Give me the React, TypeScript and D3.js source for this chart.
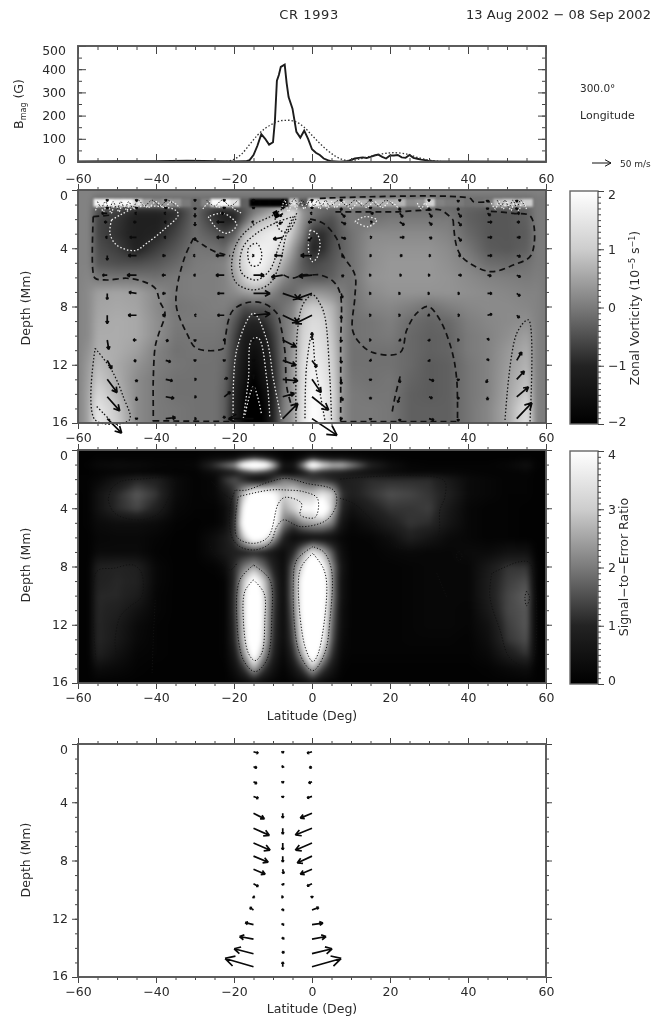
import React, { useEffect, useMemo, useRef } from "react";
import * as d3 from "d3";

type Pt = [number, number];

const WIDTH = 654;
const HEIGHT = 1019;
const FONT = "'DejaVu Sans', sans-serif";
const INK = "#2a2a2a";

// ---- field grid (latitude in deg, depth in Mm)
const fieldLats = [-60, -57.5, -55, -50, -45, -40, -35, -30, -25, -22.5, -20, -17.5, -15, -12.5, -10, -7.5, -5, -2.5, 0, 2.5, 5, 7.5, 10, 15, 20, 25, 30, 35, 40, 45, 50, 55, 57.5, 60];
const fieldDepths = [0, 0.5, 1, 1.5, 2, 3, 4, 5, 6, 7, 8, 9, 10, 11, 12, 13, 14, 15, 16];

const vorticity = [
  [.1, .1, .1, .1, .1, .1, .1, .1, .1, .1, .1, .1, .1, .1, .1, .1, .1, .1, .1, .1, .1, .1, .1, .1, .1, .1, .1, .1, .1, .1, .1, .1, .1, .1],
  [.1, .1, -.1, -.1, -.1, -.1, -.1, -.1, -.1, -.1, -.1, -.1, -.1, -.1, -.1, -.1, -.1, -.1, -.1, -.1, -.1, -.1, -.1, -.1, -.1, -.1, -.1, -.1, -.1, -.1, -.1, -.1, 0, 0],
  [.1, .1, -.3, -.3, -.4, -.4, -.3, -.2, -.3, -.3, -.3, -.3, -.2, -.1, 0, .2, .2, 0, -.2, -.2, -.2, -.2, -.2, -.2, -.2, -.2, -.2, -.2, -.2, -.2, -.2, -.2, 0, 0],
  [.1, .1, -.5, -.7, -1, -1, -.9, -.2, -.9, -1, -.9, -.5, 0, .3, .6, 1, 1.4, .3, 0, -.2, -.3, -.1, 0, -.2, -.1, -.1, -.1, -.1, -.3, -.4, -.4, -.3, 0, 0],
  [.1, .1, -.6, -.8, -1.1, -1.1, -.8, -.2, -.8, -1.05, -1, -.3, .4, .8, 1, 1.3, 1.1, .3, -.2, -.4, -.5, -.2, 0, -.1, 0, 0, 0, 0, -.3, -.4, -.4, -.3, 0, 0],
  [.1, .1, -.6, -.85, -1.1, -1, -.6, -.15, -.4, -.6, -.3, .7, 1.2, 1.5, 1.7, 1.6, .8, .1, -.8, -.9, -.6, -.3, -.1, .2, .2, .2, .2, .1, -.2, -.4, -.4, -.35, 0, 0],
  [.1, .1, -.5, -.7, -1.05, -.7, -.4, -.05, -.1, -.2, .4, 1.2, 1.7, 1.7, 1.6, 1.1, .4, -.3, -1, -.9, -.5, -.3, -.1, .25, .3, .3, .3, .2, -.05, -.35, -.4, -.3, 0, 0],
  [.1, .1, -.4, -.5, -.5, -.4, -.2, 0, .05, .1, .6, 1.3, 1.9, 1.7, 1.2, .6, .1, -.4, -.6, -.5, -.4, -.2, -.1, .25, .35, .35, .35, .25, .1, -.15, -.2, -.1, 0, 0],
  [.1, .15, -.02, -.05, -.05, -.1, 0, .05, .05, .1, .4, 1, 1.5, 1.3, .7, .2, -.1, -.3, -.4, -.4, -.3, -.1, -.1, .3, .35, .35, .35, .3, .2, .1, .05, 0, .05, 0],
  [.1, .2, .45, .5, .45, .2, 0, .05, .05, .1, .2, .4, .5, .4, .1, -.2, -.2, .1, .3, .3, .2, .05, -.1, .2, .3, .3, .3, .3, .25, .2, .15, .1, .1, 0],
  [.1, .2, .5, .55, .5, .2, -.05, 0, .05, .05, -.1, -.5, -.4, -.4, -.3, -.1, .1, .8, 1, .9, .7, .2, -.1, .1, .15, .05, -.1, .05, .15, .2, .2, .15, .1, 0],
  [.1, .2, .55, .6, .55, .25, 0, 0, 0, -.05, -.4, -.9, -1, -.9, -.5, -.05, .2, 1, 1.3, 1.2, .8, .25, -.1, -.05, .05, -.15, -.25, -.2, .05, .15, .2, .25, .1, 0],
  [.1, .2, .6, .6, .55, .25, -.05, -.05, -.05, -.1, -.6, -1.2, -1.3, -1.2, -.7, -.1, .3, 1.1, 1.4, 1.3, .9, .25, -.1, -.05, 0, -.2, -.3, -.25, 0, .1, .25, .45, .1, 0],
  [.1, .3, .65, .6, .45, .1, -.1, -.05, -.1, -.15, -.7, -1.3, -1.6, -1.3, -.8, -.1, .3, 1.2, 1.6, 1.4, 1, .3, -.1, -.1, -.1, -.2, -.3, -.25, 0, .1, .35, .6, .1, 0],
  [.1, .4, .8, .55, .3, .05, -.05, -.1, -.1, -.2, -.8, -1.4, -1.8, -1.4, -.9, -.1, .4, 1.3, 1.7, 1.5, 1.1, .3, -.1, -.1, -.1, -.2, -.35, -.3, -.05, .1, .4, .7, .1, 0],
  [.1, .45, .95, .6, .2, 0, -.1, -.1, -.1, -.25, -.9, -1.5, -2, -1.5, -1, -.1, .4, 1.3, 1.8, 1.6, 1.2, .3, -.05, -.1, -.05, -.25, -.35, -.3, -.05, .1, .45, .85, .1, 0],
  [.1, .5, 1.2, .7, .2, 0, -.1, -.1, -.1, -.3, -1, -1.7, -2.3, -1.7, -1, -.05, .4, 1.4, 1.9, 1.7, 1.3, .3, 0, -.05, -.05, -.3, -.35, -.3, -.05, .1, .5, 1, .1, 0],
  [.1, .5, 1.5, .9, .2, 0, -.05, -.1, -.1, -.3, -1.1, -1.8, -2.5, -1.9, -1, 0, .4, 1.4, 2, 1.8, 1.3, .3, 0, 0, -.05, -.3, -.3, -.3, -.05, .15, .55, 1.3, .1, 0],
  [.1, .5, 1.6, 1, .2, 0, -.05, -.1, -.1, -.3, -1.1, -1.9, -2.6, -1.9, -1, 0, .4, 1.4, 2, 1.8, 1.3, .3, 0, 0, -.05, -.3, -.3, -.3, -.05, .15, .55, 1.4, .1, 0],
];

const snr = [
  [.05, .05, .05, .05, .05, .05, .05, .05, .05, .05, .05, .05, .05, .05, .05, .05, .05, .05, .05, .05, .05, .05, .05, .05, .05, .05, .05, .05, .05, .05, .05, .05, .05, .05],
  [.05, .05, .1, .1, .1, .1, .1, .1, .3, .3, .4, .8, 1.2, .9, .5, .1, .1, .4, .9, .6, .5, .5, .4, .2, .1, .05, .05, .05, .05, .05, .05, .1, .05, .05],
  [.05, .1, .25, .35, .3, .2, .15, .2, 1.3, 1.8, 2.3, 4.5, 6, 5, 2.8, .6, .6, 2.2, 5, 3.5, 2.8, 2.8, 2.2, 1, .4, .15, .1, .1, .1, .1, .2, .45, .1, .05],
  [.05, .05, .1, .15, .15, .1, .1, .1, .4, .6, .8, 1.2, 1.5, 1.3, .9, .3, .3, .7, 1.2, 1, .9, .8, .6, .4, .3, .2, .2, .2, .15, .1, .1, .15, .05, .05],
  [.1, .1, .2, .6, 1, .9, .3, .1, .2, 1.2, 1.5, 1, .4, .4, 1.2, 2, 1.8, 1.5, 1.2, 1.2, 1, .8, .9, 1.1, 1.1, 1.1, 1.1, .7, .3, .2, .1, .1, .05, .05],
  [.05, .1, .5, 1.1, 1.6, 1.2, .3, .1, .2, .6, 1.2, 3, 4.5, 4.5, 4, 3, 3.5, 3, 3, 3.5, 3, 1.2, .9, 1.2, 1.5, 1.4, 1.2, .9, .3, .2, .1, .1, .05, .05],
  [.05, .1, .5, 1.1, 1.4, .9, .2, .1, .1, .3, 1, 4, 6, 6, 5, 2.5, 3, 4, 4, 5, 3, 1, .5, .9, 1.2, 1.2, 1.3, .7, .2, .1, .1, .05, .05, .05],
  [.05, .1, .3, .4, .4, .3, .1, .05, .1, .3, 1.2, 4.5, 7, 6, 4.5, 2, 1.5, 2.2, 2.5, 2.5, 2, .6, .2, .5, .9, 1.2, 1.1, .6, .2, .1, .1, .05, .05, .05],
  [.05, .05, .2, .25, .25, .15, .05, .05, .4, .7, 1.2, 3, 4.5, 4, 2.5, 1, .3, .4, .5, .5, .4, .2, .1, .15, .4, .9, .6, .3, .2, .1, .1, .05, .05, .05],
  [.05, .05, .3, .3, .3, .1, .05, .05, .4, .7, .9, .9, 1, .9, .6, .3, 1, 2.3, 3.5, 2.8, 1.6, .4, .1, .1, .2, .25, .2, .2, .3, .3, .5, .5, .05, .05],
  [.05, .05, .9, 1, .9, .2, .05, .05, .1, .3, 1.1, 2, 2.5, 1.8, .9, .3, 1.8, 3.4, 6, 4.2, 2.2, .6, .1, .1, .1, .15, .2, .2, .2, .7, 1.2, 1.2, .1, .05],
  [.05, .05, .95, 1.05, .95, .2, .05, .05, .05, .1, 1.1, 3, 4.5, 3, 1.3, .3, 2, 4.2, 8, 5, 2.2, .5, .1, .1, .1, .15, .2, .2, .2, .8, 1.3, 1.5, .1, .05],
  [.05, .05, 1.05, 1.05, .8, .15, .05, .05, .05, .1, 1.2, 3.3, 6, 3.3, 1.4, .3, 2, 4.2, 8, 5, 2.2, .5, .1, .1, .1, .15, .2, .2, .2, .8, 1.4, 1.7, .1, .05],
  [.05, .05, 1.05, .9, .5, .15, .05, .05, .05, .1, 1.2, 3.3, 6.5, 3.3, 1.3, .3, 1.8, 4.2, 8, 4.6, 2, .4, .1, .1, .1, .15, .2, .2, .15, .7, 1.4, 1.6, .1, .05],
  [.05, .05, 1.05, .75, .3, .1, .05, .05, .05, .1, 1.1, 3.2, 6.5, 3.2, 1.2, .3, 1.6, 3.9, 8, 4.3, 1.8, .4, .1, .1, .1, .15, .2, .2, .15, .5, 1.3, 1.6, .1, .05],
  [.05, .05, 1.05, .7, .25, .1, .05, .05, .05, .1, 1, 3, 6, 3, 1.1, .3, 1.4, 3.5, 7, 3.9, 1.6, .3, .1, .1, .1, .15, .15, .15, .1, .4, 1.2, 1.5, .1, .05],
  [.05, .05, .9, .5, .15, .1, .05, .05, .05, .1, .7, 2.3, 4.5, 2.3, .9, .2, 1, 2.6, 5, 2.8, 1.2, .2, .1, .1, .1, .1, .1, .1, .1, .25, .8, 1.2, .1, .05],
  [.05, .05, .35, .25, .1, .05, .05, .05, .05, .05, .4, 1.2, 2.5, 1.3, .5, .1, .5, 1.3, 2.6, 1.4, .6, .1, .05, .05, .05, .05, .05, .05, .05, .1, .25, .4, .05, .05],
  [.05, .05, .05, .05, .05, .05, .05, .05, .05, .05, .1, .2, .4, .2, .1, .05, .1, .2, .5, .2, .1, .05, .05, .05, .05, .05, .05, .05, .05, .05, .05, .05, .05, .05],
];

// thin near-surface layer of the vorticity panel
const bandLats = [-56, -53.5, -51, -48.5, -46, -43.5, -41, -38.5, -36, -33.5, -31, -28.5, -26, -23.5, -21, -18.5, -16, -13.5, -11, -8.5, -6, -3.5, -1, 1.5, 4, 6.5, 9, 11.5, 14, 16.5, 19, 21.5, 24, 26.5, 29, 31.5, 34, 36.5, 39, 41.5, 44, 46.5, 49, 51.5, 54, 56.5];
const bandVals = [1.8, 2, 1.8, 1.9, 1.3, .5, .2, .4, .3, 0, -.2, .1, 1.9, 1.9, 1.4, -.3, -2.5, -2.5, -2.5, -2.5, 1.2, -.4, 1.9, 1.4, 1, .8, .7, .7, .6, .7, .6, .7, .2, .3, 1.1, .1, 0, 0, -.1, -.1, 0, .8, 1, .8, 1];

// ---- magnetic field profile
const bLat = [-60, -50, -40, -32, -28, -20, -17, -16, -15, -14, -13, -12, -11, -10, -9.5, -9, -8.5, -8, -7, -6.5, -6, -5, -4, -3, -2, -1, 0, 1, 2, 3, 4, 5, 7, 9, 11, 12, 13, 14, 15, 16, 17, 18, 19, 20, 21, 22, 23, 24, 25, 26, 27, 28, 29, 30, 32, 40, 60];
const bSolid = [2, 3, 3, 6, 5, 2, 3, 8, 30, 70, 120, 100, 75, 85, 180, 350, 375, 410, 420, 340, 280, 230, 130, 105, 135, 100, 55, 40, 30, 15, 8, 3, 1, 3, 15, 18, 20, 17, 22, 28, 32, 22, 15, 28, 28, 30, 20, 18, 30, 18, 14, 10, 8, 4, 2, 2, 1];
const bSmoothLat = [-22, -20, -18, -16, -14, -12, -10, -8, -6, -4, -2, 0, 2, 4, 6, 8, 10, 12, 15, 18, 21, 24, 27, 30, 33];
const bSmooth = [3, 12, 35, 75, 115, 145, 165, 178, 180, 172, 150, 115, 80, 50, 25, 10, 6, 12, 25, 35, 40, 35, 20, 8, 3];

// ---- flow vectors, m/s, positive v = downward
const vecLats = [-52.5, -45, -37.5, -30, -22.5, -15, -7.5, 0, 7.5, 15, 22.5, 30, 37.5, 45, 52.5];
const vecDepths = [0.7, 1.2, 1.6, 2.2, 3.25, 4.5, 5.85, 7.1, 8.6, 10.3, 11.7, 13, 14.2, 15.7];
const vecU = [
  [0, 0, 0, 0, 0, 0, 0, 0, 0, 0, 0, 0, 0, 0, 0],
  [0, 0, 0, 0, 0, 0, 0, 0, 0, 0, 0, 0, 0, 0, 0],
  [-15, -5, -5, 0, -8, 0, -8, -5, 10, 8, 8, 8, 8, 8, 8],
  [-8, -8, -4, 0, -20, -5, -10, -10, 12, 5, 12, 8, 8, 12, 8],
  [-5, -18, -5, 0, -20, 0, -25, -10, 12, 4, 12, 8, 8, 12, 10],
  [0, -22, -9, -5, -22, 2, -22, -30, 7, 3, 7, 5, 7, 12, 10],
  [-13, -25, -10, -4, -22, 28, -30, -35, 7, 2, 5, 3, 9, 10, 10],
  [0, -20, -9, 0, -18, 44, 42, -40, 3, 2, 2, 2, 4, 12, 9],
  [0, -22, -9, -2, -18, 44, 40, -44, 0, 2, 2, 2, 4, 12, 7],
  [4, -9, 7, 0, -3, 2, 35, 0, 0, 2, 3, 2, 3, 4, 0],
  [12, -7, 13, 0, 0, 0, 35, 13, 0, 2, 0, 2, 0, 3, 13],
  [26, 0, 18, 4, 9, 0, 40, 24, 0, 0, 0, 13, 0, -3, 20],
  [33, 0, 22, 4, 16, 0, 31, 44, 4, 0, -5, 9, 0, 0, 31],
  [38, 0, 26, 4, 0, -66, 40, 66, 0, 0, 0, 13, 0, 0, 40],
];
const vecV = [
  [3, 3, 3, 3, 3, 3, 3, 3, 3, 3, 3, 3, 5, 5, 5],
  [4, 4, 4, 6, 4, 4, 4, 4, 8, 4, 8, 8, 8, 6, 6],
  [0, 0, 0, 10, 0, 0, 8, 0, 10, 0, 10, 10, 10, 6, 0],
  [0, 0, 0, 10, 0, 0, 5, 0, 6, 0, 8, 8, 10, 0, 0],
  [0, 0, 0, 8, 0, 0, 5, 10, 4, 0, 0, 3, 10, 0, 0],
  [12, 0, 0, 0, 0, 0, 0, 0, 3, 0, 0, 0, 0, 0, 3],
  [0, 0, 0, 0, 0, 0, 5, 3, 3, 0, 0, 0, 0, 2, 5],
  [16, -3, 0, 0, 0, 0, 14, 14, 12, 0, 0, 0, 0, 0, 7],
  [22, 0, 0, 0, 0, -4, 19, 22, 9, 0, 0, 1, 0, -3, 7],
  [25, 0, 3, 4, 0, 0, 18, -20, 5, 0, 2, 3, 0, -4, 0],
  [22, 2, 4, 3, 3, 3, 13, 18, 7, 2, 0, 3, 0, -4, -22],
  [35, 7, 4, 0, -4, -13, 4, 35, 13, 4, 9, 4, 4, 9, -22],
  [37, 10, 4, 0, -13, -26, -9, 35, 10, 7, 15, 4, 7, 9, -26],
  [38, 3, -3, 0, -7, 0, -40, 44, 3, 4, 7, 4, 7, 0, -42],
];

const meanLats = [-15, -7.5, 0];
const meanDepths = [0.53, 1.56, 2.59, 3.6, 4.75, 5.78, 6.8, 7.7, 8.6, 9.6, 10.5, 11.4, 12.4, 13.4, 14.4, 15.3];
const meanU = [
  [13, 9, 9, 13, 29, 42, 44, 39, 31, 13, 3, -10, -22, -37, -51, -75],
  [0, -2, 0, 0, 0, 0, 0, 0, 2, 2, 2, 2, 2, 2, 2, 0],
  [-13, -7, -9, -13, -31, -44, -44, -39, -31, -13, 0, 18, 29, 37, 53, 77],
];
const meanV = [
  [4, 3, 5, 5, 15, 19, 19, 16, 13, 7, 2, -7, -5, -7, -13, -22],
  [4, 2, 4, 4, 13, 16, 18, 16, 12, 4, 0, -3, -3, -5, -7, -13],
  [4, 3, 4, 4, 13, 18, 19, 18, 13, 6, 3, -7, -4, -7, -13, -22],
];

// ---- contours as [lat, depth]
const vortZero: Pt[][] = [
  [[-56.1, 1.83], [-56.2, 5.5], [-55.6, 6.06], [-52.6, 6.18], [-47.5, 6.06], [-43.2, 6.29], [-40.2, 6.75], [-39, 7.67], [-37.7, 8.47], [-39.4, 9.95], [-40.2, 10.75], [-40.7, 13], [-40.7, 15.1], [-40.7, 15.9]],
  [[-56.1, 1.83], [-51.4, 1.72]],
  [[-30.4, 3.32], [-32.6, 4.58], [-34.7, 6.86], [-34.7, 8.12], [-32.1, 9.84], [-29.6, 10.87], [-22.7, 10.87], [-22.3, 10.3], [-21.4, 8.92], [-20.2, 8.24], [-16.8, 7.74], [-12.5, 7.78], [-9, 8.47], [-7.8, 9.61], [-6.9, 11.2], [-6.5, 13.5], [-5.2, 14.87]],
  [[-30.4, 3.32], [-27.9, 3.78], [-24.9, 4.23], [-21, 4.52]],
  [[-7.3, 5.83], [-5.2, 6.06], [-2.2, 5.83], [.1, 5.83], [2.05, 5.83], [5.5, 6.29], [7.2, 7.09], [7.35, 10.75], [7.35, 15.9]],
  [[-.5, 2], [2.9, 2.29], [6.3, 3.32], [7.6, 4.35], [11, 5.83], [11, 7.32], [10.4, 9.61], [12.3, 10.53], [15.7, 11.17], [22.6, 11.17], [24.3, 9.61], [26.8, 8.47], [29.8, 8], [32.8, 8.92], [35.8, 10.98], [37.1, 13], [37.3, 15.9]],
  [[22.6, 12.8], [21.3, 14.19], [20.5, 15.33]],
  [[36.2, 2.06], [37.1, 3.89], [38.8, 4.69], [45.6, 5.6], [51.6, 5.15], [56.2, 4.46], [56.1, 1.83], [51.6, 1.6], [45, 1.45]],
  [[6, 1.5], [14, 1.5], [21, 1.5], [30, 1.37], [33, 1.37], [36.2, 2.06]],
  [[2, .57], [40.5, .57], [41.4, .8], [45.6, .8]],
  [[-40.7, 15.85], [-21, 15.9]],
  [[7.3, 15.9], [37.3, 15.9]],
];
const vortPositive: Pt[][] = [
  [[-3.9, 1.6], [-6.5, 3], [-8.2, 5], [-10.8, 6.41], [-15, 6.86], [-19.3, 6.41], [-20.6, 5.38], [-19.3, 3.66], [-15, 2.4], [-9.9, 1.72], [-5.6, .9]],
  [[-4.8, 1.83], [-8.2, 3.66], [-10.8, 5.49], [-14.2, 6.18], [-17.6, 5.83], [-18.5, 5.26], [-17.6, 3.89], [-14.2, 2.97], [-8.6, 2.17], [-4.8, 1.83]],
  [[-16.3, 4.8], [-16.3, 4], [-14.2, 3.66], [-12.9, 4.35], [-13.7, 5.15], [-15.5, 5.2], [-16.3, 4.8]],
  [[-9.5, 1.95], [-8.2, 2.75], [-6.1, 2.86], [-3.9, 1.83]],
  [[-4.1, 15.9], [-3.7, 9.6], [-2.2, 7.8], [.2, 7.2], [2.05, 7.8], [3.3, 8.7], [4.6, 13], [5, 15.8]],
  [[-1.8, 15.67], [-1.4, 12.1], [0, 9.84], [.8, 12], [2.1, 14], [3.3, 15.8]],
  [[-55.6, 10.87], [-51.4, 12.36], [-48.4, 14.19], [-46.8, 15.79], [-55.6, 15.79], [-55.6, 10.87]],
  [[-55.2, 14.87], [-53.5, 15.33], [-51.8, 15.79]],
  [[49.5, 15.79], [52.5, 9.84], [55.5, 8.92], [55.9, 15.9]],
];
const vortNegative: Pt[][] = [
  [[-51.4, 2.06], [-51.8, 2.97], [-50.1, 3.78], [-45.4, 4.16], [-42.4, 3.66], [-38.1, 2.75], [-34.3, 1.72], [-35.1, 1.37], [-44.1, 1.14], [-49.2, 1.72], [-51.4, 2.06]],
  [[-26.6, 1.83], [-24.4, 2.63], [-21.9, 2.97], [-19.3, 2.4], [-22.7, 1.6], [-26.6, 1.83]],
  [[-20.2, 15.79], [-19.3, 10.98], [-15, 8.47], [-11.6, 10.3], [-9.9, 13], [-7.8, 15.79]],
  [[-17.6, 15.67], [-16.3, 13], [-15.5, 10.3], [-13.7, 10.18], [-11.6, 13], [-10.8, 15.67]],
  [[-17.2, 15.45], [-15, 13.5], [-12.9, 15.45]],
  [[-.5, 2.75], [1.2, 2.97], [2.05, 3.66], [1.2, 4.69], [.1, 4.92], [-.9, 4.12], [-.5, 2.75]],
  [[11, 2.17], [13.6, 1.83], [16.6, 2.06], [14.4, 2.52], [11, 2.17]],
];
const surfaceHatch: Pt[][] = [
  [[-55.5, 1.4], [-54.5, .9], [-53.5, 1.5], [-52.5, .9], [-51.5, 1.6], [-50.5, .9], [-49.5, 1.5], [-48.5, .9], [-47.5, 1.4], [-46.5, .9], [-45.5, 1.3], [-44, .9], [-42, 1.2], [-40, .8], [-38, 1.2], [-36, .8], [-34, 1.2]],
  [[-28, 1.3], [-26, .8], [-24, 1.2], [-22, .8], [-20, 1.3], [-18, 1.6]],
  [[-8, 1.6], [-7, .7], [-6, 1.5], [-5, .7], [-4, 1.3], [-3, .8], [-2, 1.3], [-1, .8], [0, 1.3], [1, .8], [2, 1.3], [3, .8], [4, 1.3], [5, .8], [6, 1.2], [8, .8], [10, 1.3], [12, .8], [14, 1.2], [16, .8], [18, 1.2], [20, .8], [22, 1.2]],
  [[46, .9], [47, 1.3], [48, .8], [49, 1.3], [50, .8], [51, 1.4], [52, .8], [53, 1.4], [54, .8], [55, 1.3]],
  [[27, .9], [28, 1.3], [29, .9], [30, 1.3]],
];
const surfaceHatchDark: Pt[][] = [
  [[-55, .8], [-54, 1.2], [-53, .8], [-52, 1.3], [-51, .8], [-50, 1.3], [-49, .8], [-48, 1.3], [-47, .8], [-46, 1.2], [-44.5, .7], [-43, 1.1], [-41, .7], [-39, 1.1], [-37, .7], [-35, 1.1]],
  [[-27, .7], [-25, 1.1], [-23, .7], [-21, 1.1], [-19, .7]],
  [[-5.5, 1], [-4.5, .6], [-3.5, 1.1], [-2.5, .7], [-1.5, 1.1], [-.5, .7], [.5, 1.1], [1.5, .7], [2.5, 1.1], [3.5, .7], [4.5, 1.1], [7, .7], [9, 1.1], [11, .7], [13, 1.1], [15, .7], [17, 1.1], [19, .7], [21, 1.1]],
  [[47.5, .7], [48.5, 1.1], [49.5, .7], [50.5, 1.2], [51.5, .7], [52.5, 1.2], [53.5, .7], [54.5, 1.1]],
];
const coreMark: Pt[][] = [[[-9.6, 1.45], [-8.8, 1.9]]];
const snrContours: Pt[][] = [
  [[-51.4, 2.63], [-52.2, 3.43], [-50.5, 4.35], [-45, 4.8], [-39.8, 4.46], [-36.8, 3.32], [-35.5, 2.06], [-44.1, 2], [-49.2, 2.17], [-51.4, 2.63]],
  [[-55.2, 14.87], [-55.2, 8.35], [-50.9, 8.12], [-45.8, 7.9], [-43.7, 8.47], [-43.7, 10.07], [-46.7, 10.75], [-49.2, 11.44], [-50.5, 13.04], [-50.5, 14.3], [-55.2, 14.87]],
  [[-15, 8.92], [-17.2, 9.7], [-17.6, 11.67], [-16.3, 13.96], [-14.6, 14.46], [-12.9, 13.96], [-12.1, 11.67], [-12.3, 9.84], [-15, 8.92]],
  [[-15, 7.9], [-18.5, 8.92], [-19.3, 11.44], [-17.6, 14.42], [-14.6, 15.22], [-11.6, 14.42], [-10.3, 11.44], [-10.8, 8.92], [-15, 7.9]],
  [[.2, 7.09], [-2.7, 8], [-3.5, 9.15], [-1.8, 13.5], [.2, 14.53], [1.6, 13.96], [3.8, 9.4], [2.9, 8.12], [.2, 7.09]],
  [[.2, 6.64], [-3.9, 7.55], [-4.8, 9.15], [-3.2, 13.96], [.2, 15.15], [3.2, 14], [4.6, 11.67], [5, 8.24], [3, 7], [.2, 6.64]],
  [[-19.7, 2.75], [-21, 3.89], [-20.6, 5.95], [-18.5, 6.64], [-14.6, 6.86], [-10.8, 6.41], [-9, 5.26], [-7.3, 4.8], [-3, 5.26], [3.8, 4.8], [6.3, 3.66], [5.5, 2.75], [-1.4, 2.29], [-6.5, 1.95], [-10.8, 2.17], [-16.8, 2.75], [-19.7, 2.75]],
  [[-18.9, 3.2], [-19.3, 5.95], [-15, 6.41], [-11.2, 5.95], [-8.6, 3.66], [-6.9, 3.25], [-2.7, 3.66], [-3, 4.46], [.8, 4.62], [1.4, 3.32], [-2.2, 2.86], [-6.5, 2.75], [-10.8, 2.75], [-18.9, 3.2]],
  [[-26.2, 6.4], [-25.7, 6.86], [-23.6, 7.55], [-21, 8.24], [-19.3, 7.8]],
  [[-25.7, 2.17], [-22.3, 3.09], [-20.6, 3.4]],
  [[7.2, 3.32], [10.6, 3.66], [15.3, 4.8], [22.6, 6.75], [32, 6.06], [32.8, 4.12], [34.1, 3.2], [33.7, 2.06], [7.2, 2]],
  [[46.1, 8.47], [45.6, 10.07], [48.2, 12.36], [50.8, 14.3], [55.9, 14.87], [55.9, 7.78], [53.3, 7.67], [46.1, 8.47]],
  [[37.7, 6.95], [38.5, 7.25], [37.7, 7.6], [37, 7.25], [37.7, 6.95]],
  [[55, 9.7], [55.8, 10.1], [55, 10.7], [54.6, 10.1], [55, 9.7]],
  [[32, 8.47], [34.5, 10.07]],
  [[-40.2, 10.3], [-40.7, 13], [-41, 15.3]],
];

const latMajor = [-60, -40, -20, 0, 20, 40, 60];
const latMinor = d3.range(-60, 61, 5);
const depthMajor = [0, 4, 8, 12, 16];
const depthMinor = d3.range(0, 17, 1);

// layout
const X_RANGE: [number, number] = [78, 546];
const BAR_X: [number, number] = [570, 598];
const BMAG_Y: [number, number] = [162, 46];
const VORT_Y: [number, number] = [190, 423];
const SNR_Y: [number, number] = [450, 683];
const MEAN_Y: [number, number] = [744, 977];
const ARROW_SCALE = 0.38; // px per m/s

const latScale = d3.scaleLinear().domain([-60, 60]).range(X_RANGE);
const bScale = d3.scaleLinear().domain([0, 500]).range(BMAG_Y);
const grayVort = d3.scaleLinear().domain([-2, -1, 0, 1, 2]).range([0, 35, 122, 205, 255]).clamp(true);
const graySnr = d3.scaleLinear().domain([0, 1, 2, 3, 4]).range([0, 35, 122, 205, 255]).clamp(true);
const depthScale = (r: [number, number]) => d3.scaleLinear().domain([0, 16]).range(r);
const grayCss = (g: number) => d3.rgb(g, g, g).formatHex();

function sampleField(grid: number[][], lat: number, depth: number) {
  const i = Math.max(0, Math.min(fieldLats.length - 2, d3.bisectRight(fieldLats, lat) - 1));
  const j = Math.max(0, Math.min(fieldDepths.length - 2, d3.bisectRight(fieldDepths, depth) - 1));
  const t = Math.max(0, Math.min(1, (lat - fieldLats[i]) / (fieldLats[i + 1] - fieldLats[i])));
  const s = Math.max(0, Math.min(1, (depth - fieldDepths[j]) / (fieldDepths[j + 1] - fieldDepths[j])));
  const top = grid[j][i] * (1 - t) + grid[j][i + 1] * t;
  const bot = grid[j + 1][i] * (1 - t) + grid[j + 1][i + 1] * t;
  return top * (1 - s) + bot * s;
}

const PAD = 8;

function fieldImage(grid: number[][], gray: (v: number) => number, yScale: d3.ScaleLinear<number, number>) {
  const [x0, x1] = X_RANGE;
  const [y0, y1] = yScale.range();
  const w = x1 - x0 + PAD * 2;
  const h = y1 - y0 + PAD * 2;
  const canvas = document.createElement("canvas");
  canvas.width = w;
  canvas.height = h;
  const ctx = canvas.getContext("2d")!;
  const img = ctx.createImageData(w, h);
  for (let py = 0; py < h; py++) {
    const depth = yScale.invert(y0 - PAD + py);
    for (let px = 0; px < w; px++) {
      const lat = latScale.invert(x0 - PAD + px);
      const g = gray(sampleField(grid, lat, depth));
      const k = (py * w + px) * 4;
      img.data[k] = img.data[k + 1] = img.data[k + 2] = g;
      img.data[k + 3] = 255;
    }
  }
  ctx.putImageData(img, 0, 0);
  return canvas.toDataURL();
}

// the end labels of each side axis sit a little inside the plot in the original
function Axis({ scale, orient, at, major, minor, labels, inward, nudge }: any) {
  const ref = useRef<SVGGElement>(null);
  useEffect(() => {
    const g = d3.select(ref.current);
    g.selectAll("*").remove();
    const make = orient === "bottom" ? d3.axisBottom : orient === "top" ? d3.axisTop : orient === "left" ? d3.axisLeft : d3.axisRight;
    const sign = inward ? -1 : 1;
    const big = inward ? 8 : 6;
    const small = inward ? 4 : 3;
    const minorAxis = make(scale).tickValues(minor).tickSize(sign * small).tickFormat(() => "");
    const majorAxis = make(scale).tickValues(major).tickSize(sign * big).tickPadding(inward ? 12 : 4);
    majorAxis.tickFormat(labels ? d3.format("d") : () => "");
    g.append("g").call(minorAxis);
    const mg = g.append("g").call(majorAxis);
    g.selectAll(".domain").remove();
    g.selectAll("line").attr("stroke", "#444").attr("stroke-width", 1);
    g.selectAll("text").attr("fill", INK).style("font-family", FONT).style("font-size", "12.5px");
    if (nudge) {
      mg.selectAll("text").attr("transform", (d: any) => (nudge[d] ? `translate(0,${nudge[d]})` : null));
    }
  }, []);
  const t = orient === "bottom" || orient === "top" ? `translate(0,${at})` : `translate(${at},0)`;
  return <g ref={ref} transform={t} />;
}

function PanelAxes({ yScale, yMajor, yMinor, inward, nudge }: any) {
  const [yb, yt] = [Math.max(...yScale.range()), Math.min(...yScale.range())];
  return (
    <g>
      <Axis scale={latScale} orient="bottom" at={yb} major={latMajor} minor={latMinor} labels inward={inward} />
      <Axis scale={latScale} orient="top" at={yt} major={latMajor} minor={latMinor} inward={inward} />
      <Axis scale={yScale} orient="left" at={X_RANGE[0]} major={yMajor} minor={yMinor} labels inward={inward} nudge={nudge} />
      <Axis scale={yScale} orient="right" at={X_RANGE[1]} major={yMajor} minor={yMinor} inward={inward} />
      <rect x={X_RANGE[0]} y={yt} width={X_RANGE[1] - X_RANGE[0]} height={yb - yt} fill="none" stroke="#555" strokeWidth={1.9} />
    </g>
  );
}

function Contours({ paths, yScale, stroke, width, dash }: any) {
  const line = d3.line<Pt>().x((d) => latScale(d[0])).y((d) => yScale(d[1])).curve(d3.curveCatmullRom.alpha(0.5));
  return (
    <g fill="none" stroke={stroke} strokeWidth={width} strokeDasharray={dash}>
      {paths.map((p: Pt[], i: number) => <path key={i} d={line(p)!} />)}
    </g>
  );
}

function arrowPath(x: number, y: number, dx: number, dy: number) {
  const len = Math.hypot(dx, dy);
  const p = d3.path();
  p.moveTo(x, y);
  p.lineTo(x + dx, y + dy);
  if (len > 0.01) {
    const head = Math.max(2.4, len * 0.36);
    const a = Math.atan2(dy, dx);
    for (const s of [-1, 1]) {
      p.moveTo(x + dx, y + dy);
      p.lineTo(x + dx - head * Math.cos(a + s * 0.5), y + dy - head * Math.sin(a + s * 0.5));
    }
  }
  return p.toString();
}

function Vectors({ lats, depths, u, v, yScale, byColumn }: any) {
  const paths: string[] = [];
  depths.forEach((d: number, r: number) => {
    lats.forEach((lat: number, c: number) => {
      const uu = byColumn ? u[c][r] : u[r][c];
      const vv = byColumn ? v[c][r] : v[r][c];
      paths.push(arrowPath(latScale(lat), yScale(d), uu * ARROW_SCALE, vv * ARROW_SCALE));
    });
  });
  return <path d={paths.join("")} fill="none" stroke="#0a0a0a" strokeWidth={1.7} />;
}

function ColorBar({ id, yScale, gray, major, minor, nudge }: any) {
  const [yb, yt] = [Math.max(...yScale.range()), Math.min(...yScale.range())];
  const dom = yScale.domain();
  const stops = gray.domain();
  return (
    <g>
      <defs>
        <linearGradient id={id} x1="0" y1="1" x2="0" y2="0">
          {stops.map((s: number) => (
            <stop key={s} offset={(s - dom[0]) / (dom[1] - dom[0])} stopColor={grayCss(gray(s))} />
          ))}
        </linearGradient>
      </defs>
      <rect x={BAR_X[0]} y={yt} width={BAR_X[1] - BAR_X[0]} height={yb - yt} fill={`url(#${id})`} stroke="#666" strokeWidth={1.4} />
      <Axis scale={yScale} orient="right" at={BAR_X[1]} major={major} minor={minor} labels nudge={nudge} />
    </g>
  );
}

function FieldPanel({ id, grid, gray, yScale }: any) {
  const href = useMemo(() => fieldImage(grid, gray, yScale), []);
  const [y0, y1] = yScale.range();
  return (
    <g clipPath={`url(#${id}-clip)`}>
      <defs>
        <clipPath id={`${id}-clip`}><rect x={X_RANGE[0]} y={y0} width={X_RANGE[1] - X_RANGE[0]} height={y1 - y0} /></clipPath>
      </defs>
      <image href={href} x={X_RANGE[0] - PAD} y={y0 - PAD} width={X_RANGE[1] - X_RANGE[0] + PAD * 2} height={y1 - y0 + PAD * 2} preserveAspectRatio="none" filter="url(#soft)" />
    </g>
  );
}

function VText({ x, y, children, size = 12.5 }: any) {
  return (
    <text transform={`translate(${x},${y}) rotate(-90)`} textAnchor="middle" fontFamily={FONT} fontSize={size} fill={INK}>{children}</text>
  );
}

const depthNudge = { 0: 5, 16: -2 };

export default function App() {
  const vortY = depthScale(VORT_Y);
  const snrY = depthScale(SNR_Y);
  const meanY = depthScale(MEAN_Y);
  const vortBar = d3.scaleLinear().domain([-2, 2]).range([VORT_Y[1] + 1, VORT_Y[0] + 1]);
  const snrBar = d3.scaleLinear().domain([0, 4]).range([SNR_Y[1] + 1, SNR_Y[0] + 1]);
  const solid = d3.line<number>().x((_, i) => latScale(bLat[i])).y((d) => bScale(d));
  const smooth = d3.line<number>().x((_, i) => latScale(bSmoothLat[i])).y((d) => bScale(d)).curve(d3.curveMonotoneX);

  return (
    <svg width={WIDTH} height={HEIGHT} style={{ position: "absolute", left: 0, top: 0, background: "#fff" }}>
      <defs>
        <filter id="soft" x="-5%" y="-5%" width="110%" height="110%" colorInterpolationFilters="sRGB"><feGaussianBlur stdDeviation="2" /></filter>
        <filter id="band" x="-5%" y="-60%" width="110%" height="220%" colorInterpolationFilters="sRGB"><feGaussianBlur stdDeviation="1" /></filter>
        <filter id="scan" x="0" y="0" width="100%" height="100%" colorInterpolationFilters="sRGB"><feGaussianBlur stdDeviation="0.55" /></filter>
      </defs>
      <rect width={WIDTH} height={HEIGHT} fill="#fff" />
      <g filter="url(#scan)">
        <text x={309} y={19} textAnchor="middle" fontFamily={FONT} fontSize={13} letterSpacing={0.6} fill={INK}>CR 1993</text>
        <text x={558.5} y={19} textAnchor="middle" fontFamily={FONT} fontSize={13} fill={INK}>13 Aug 2002 − 08 Sep 2002</text>
        <text x={580} y={92} fontFamily={FONT} fontSize={10.5} fill={INK}>300.0°</text>
        <text x={580} y={119} fontFamily={FONT} fontSize={11} fill={INK}>Longitude</text>
        <path d={arrowPath(592, 163, 19, 0)} fill="none" stroke="#111" strokeWidth={1} />
        <text x={620} y={167} fontFamily={FONT} fontSize={9} fill={INK}>50 m/s</text>

        {/* magnetic field */}
        <path d={solid(bSolid)!} fill="none" stroke="#1c1c1c" strokeWidth={1.9} />
        <path d={smooth(bSmooth)!} fill="none" stroke="#333" strokeWidth={1.3} strokeDasharray="1.5 2" />
        <PanelAxes yScale={bScale} yMajor={[0, 100, 200, 300, 400, 500]} yMinor={d3.range(0, 501, 50)} inward nudge={{ 0: -3, 500: 4 }} />
        <VText x={23} y={104}>B<tspan fontSize={8} dy={3}>mag</tspan><tspan dy={-3}> (G)</tspan></VText>

        {/* vorticity */}
        <FieldPanel id="vort" grid={vorticity} gray={grayVort} yScale={vortY} />
        <g clipPath="url(#vort-clip)" filter="url(#band)">
          {bandVals.map((v, i) => (
            <rect key={i} x={latScale(bandLats[i])} y={vortY(0.6)} width={latScale(bandLats[i + 1]) - latScale(bandLats[i]) + 0.5} height={vortY(1.15) - vortY(0.6)} fill={grayCss(grayVort(v))} />
          ))}
        </g>
        <Contours paths={surfaceHatch} yScale={vortY} stroke="#f2f2f2" width={1.2} dash="1.5 1.5" />
        <Contours paths={surfaceHatchDark} yScale={vortY} stroke="#222" width={1} dash="1.5 1.5" />
        <Contours paths={coreMark} yScale={vortY} stroke="#000" width={5} />
        <Contours paths={vortNegative} yScale={vortY} stroke="#eee" width={1.3} dash="1.5 2" />
        <Contours paths={vortPositive} yScale={vortY} stroke="#111" width={1.3} dash="1.5 2" />
        <Contours paths={vortZero} yScale={vortY} stroke="#111" width={1.7} dash="6 4" />
        <Vectors lats={vecLats} depths={vecDepths} u={vecU} v={vecV} yScale={vortY} />
        <PanelAxes yScale={vortY} yMajor={depthMajor} yMinor={depthMinor} nudge={depthNudge} />
        <VText x={30} y={308}>Depth (Mm)</VText>
        <ColorBar id="vort-bar" yScale={vortBar} gray={grayVort} major={[-2, -1, 0, 1, 2]} minor={d3.range(-2, 2.01, 0.1)} nudge={{ 2: 3, "-2": -3 }} />
        <VText x={639} y={308}>Zonal Vorticity (10<tspan fontSize={8} dy={-4}>−5</tspan><tspan dy={4}> s</tspan><tspan fontSize={8} dy={-4}>−1</tspan><tspan dy={4}>)</tspan></VText>

        {/* signal to error */}
        <FieldPanel id="snr" grid={snr} gray={graySnr} yScale={snrY} />
        <Contours paths={snrContours} yScale={snrY} stroke="#111" width={1} dash="1.2 1.8" />
        <PanelAxes yScale={snrY} yMajor={depthMajor} yMinor={depthMinor} nudge={depthNudge} />
        <VText x={30} y={565}>Depth (Mm)</VText>
        <ColorBar id="snr-bar" yScale={snrBar} gray={graySnr} major={[0, 1, 2, 3, 4]} minor={d3.range(0, 4.01, 0.1)} nudge={{ 4: 3, 0: -4 }} />
        <VText x={628} y={567}>Signal−to−Error Ratio</VText>
        <text x={312} y={720} textAnchor="middle" fontFamily={FONT} fontSize={12.5} fill={INK}>Latitude (Deg)</text>

        {/* mean flow */}
        <Vectors lats={meanLats} depths={meanDepths} u={meanU} v={meanV} yScale={meanY} byColumn />
        <PanelAxes yScale={meanY} yMajor={depthMajor} yMinor={depthMinor} nudge={depthNudge} />
        <VText x={30} y={860}>Depth (Mm)</VText>
        <text x={312} y={1013} textAnchor="middle" fontFamily={FONT} fontSize={12.5} fill={INK}>Latitude (Deg)</text>
      </g>
    </svg>
  );
}
